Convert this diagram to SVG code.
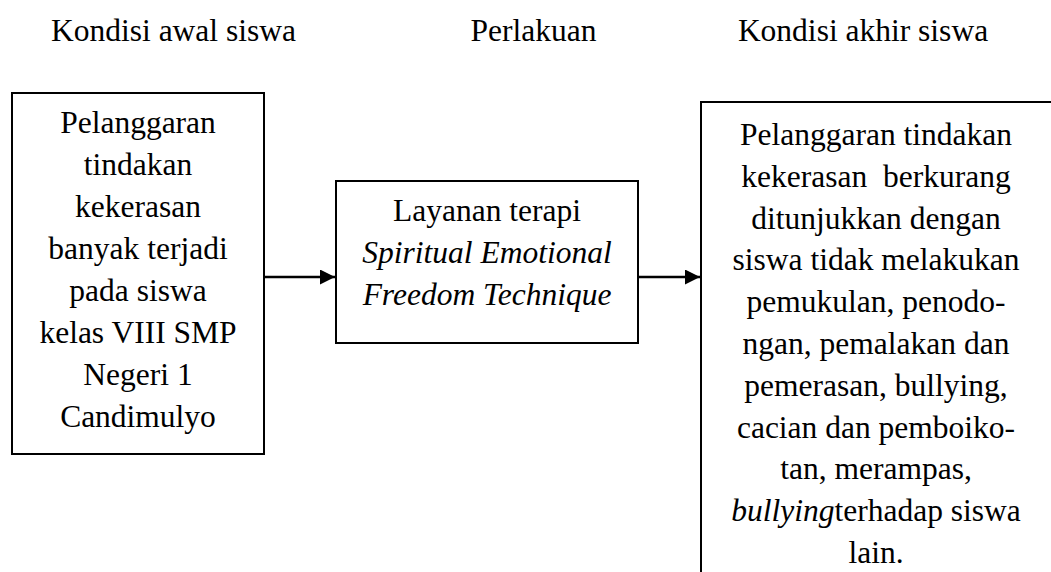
<svg xmlns="http://www.w3.org/2000/svg" width="1051" height="572" viewBox="0 0 1051 572">
<style>
text{font-family:"Liberation Serif","Times New Roman",serif;font-size:31.5px;fill:#000;text-anchor:middle}
.box{fill:#fff;stroke:#000;stroke-width:2}
.conn{stroke:#000;stroke-width:2.5;fill:none}
.it{font-style:italic}
</style>
<defs>
<marker id="ah" viewBox="0 0 10 10" refX="10" refY="5" markerUnits="userSpaceOnUse" markerWidth="15" markerHeight="15" orient="auto">
<path d="M0,0 L10,5 L0,10 Z" fill="#000"/>
</marker>
</defs>
<rect width="1051" height="572" fill="#fff"/>
<g id="headings">
<text x="173.5" y="40.5">Kondisi awal siswa</text>
<text x="533.5" y="40.5">Perlakuan</text>
<text x="863" y="40.5">Kondisi akhir siswa</text>
</g>
<g id="connectors">
<line class="conn" x1="264" y1="277" x2="335" y2="277" marker-end="url(#ah)"/>
<line class="conn" x1="638" y1="277" x2="700" y2="277" marker-end="url(#ah)"/>
</g>
<g id="node-awal">
<rect class="box" x="12" y="93" width="252" height="361"/>
<text x="138" y="133">Pelanggaran</text>
<text x="138" y="175">tindakan</text>
<text x="138" y="217">kekerasan</text>
<text x="138" y="259">banyak terjadi</text>
<text x="138" y="301">pada siswa</text>
<text x="138" y="343">kelas VIII SMP</text>
<text x="138" y="385">Negeri 1</text>
<text x="138" y="427">Candimulyo</text>
</g>
<g id="node-perlakuan">
<rect class="box" x="336" y="181" width="302" height="162"/>
<text x="487" y="221">Layanan terapi</text>
<text x="487" y="263" class="it">Spiritual Emotional</text>
<text x="487" y="305" class="it">Freedom Technique</text>
</g>
<g id="node-akhir">
<rect class="box" x="701" y="102" width="400" height="500"/>
<text x="876" y="145">Pelanggaran tindakan</text>
<text x="876" y="186.8" xml:space="preserve">kekerasan  berkurang</text>
<text x="876" y="228.6">ditunjukkan dengan</text>
<text x="876" y="270.4">siswa tidak melakukan</text>
<text x="876" y="312.2">pemukulan, penodo-</text>
<text x="876" y="354">ngan, pemalakan dan</text>
<text x="876" y="395.8">pemerasan, bullying,</text>
<text x="876" y="437.6">cacian dan pemboiko-</text>
<text x="876" y="479.4">tan, merampas,</text>
<text x="876" y="521.2"><tspan class="it">bullying</tspan>terhadap siswa</text>
<text x="876" y="563">lain.</text>
</g>
</svg>
